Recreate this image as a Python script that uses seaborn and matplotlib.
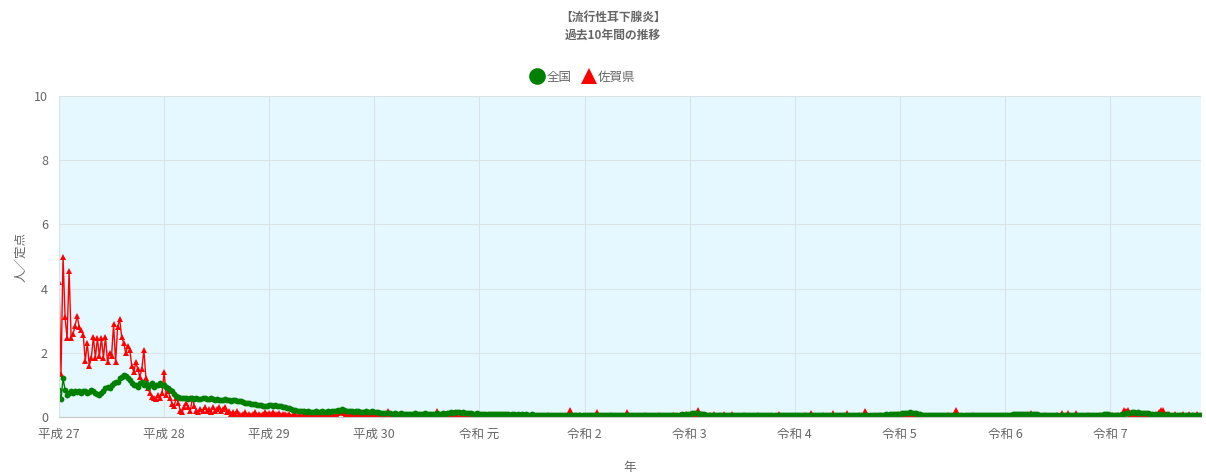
import matplotlib
matplotlib.use("Agg")
import matplotlib.pyplot as plt
from matplotlib.lines import Line2D
import seaborn as sns
import numpy as np
import pandas as pd

# weekly values per year (人／定点)
year_labels = ["平成 27", "平成 28", "平成 29", "平成 30", "令和 元", "令和 2",
               "令和 3", "令和 4", "令和 5", "令和 6", "令和 7"]

zenkoku = [
    [0.85, 0.55, 1.2, 0.85, 0.7, 0.75, 0.8, 0.75, 0.8, 0.78, 0.8, 0.75, 0.82, 0.8, 0.75, 0.78, 0.85, 0.8,
     0.75, 0.72, 0.7, 0.75, 0.8, 0.9, 0.95, 0.9, 1.0, 1.05, 1.1, 1.1, 1.2, 1.25, 1.3, 1.28, 1.2, 1.15,
     1.05, 1.0, 1.0, 0.95, 1.05, 1.1, 1.0, 1.05, 0.95, 1.0, 1.05, 0.95, 1.0, 1.0, 1.05, 1.0],
    [1.0, 0.95, 0.9, 0.85, 0.8, 0.72, 0.66, 0.62, 0.6, 0.6, 0.58, 0.6, 0.57, 0.58, 0.6, 0.56, 0.58, 0.55,
     0.57, 0.6, 0.58, 0.55, 0.56, 0.58, 0.55, 0.53, 0.55, 0.52, 0.54, 0.53, 0.55, 0.52, 0.53, 0.5, 0.52,
     0.53, 0.5, 0.51, 0.5, 0.47, 0.45, 0.44, 0.43, 0.42, 0.42, 0.4, 0.38, 0.38, 0.36, 0.35, 0.35, 0.34],
    [0.36, 0.37, 0.35, 0.36, 0.34, 0.35, 0.33, 0.32, 0.3, 0.28, 0.27, 0.25, 0.23, 0.22, 0.2, 0.2, 0.18,
     0.18, 0.17, 0.18, 0.17, 0.16, 0.17, 0.18, 0.16, 0.17, 0.18, 0.17, 0.16, 0.18, 0.17, 0.19, 0.2, 0.18,
     0.22, 0.2, 0.25, 0.23, 0.2, 0.19, 0.18, 0.2, 0.17, 0.18, 0.19, 0.17, 0.16, 0.17, 0.18, 0.16, 0.17, 0.18],
    [0.17, 0.15, 0.16, 0.14, 0.13, 0.12, 0.12, 0.11, 0.12, 0.1, 0.11, 0.1, 0.1, 0.11, 0.1, 0.09, 0.1, 0.1,
     0.09, 0.1, 0.11, 0.1, 0.09, 0.1, 0.1, 0.11, 0.1, 0.1, 0.09, 0.1, 0.1, 0.11, 0.1, 0.1, 0.12, 0.1, 0.12,
     0.14, 0.15, 0.14, 0.15, 0.16, 0.15, 0.14, 0.15, 0.13, 0.12, 0.12, 0.11, 0.1, 0.1, 0.11],
    [0.1, 0.1, 0.09, 0.1, 0.1, 0.09, 0.08, 0.09, 0.1, 0.09, 0.08, 0.09, 0.08, 0.09, 0.08, 0.07, 0.08, 0.08,
     0.07, 0.08, 0.07, 0.08, 0.07, 0.08, 0.07, 0.07, 0.08, 0.07, 0.06, 0.07, 0.07, 0.06, 0.07, 0.07, 0.06,
     0.07, 0.06, 0.07, 0.06, 0.07, 0.06, 0.06, 0.07, 0.06, 0.07, 0.06, 0.07, 0.06, 0.06, 0.07, 0.06, 0.07],
    [0.07, 0.06, 0.06, 0.07, 0.06, 0.05, 0.06, 0.05, 0.06, 0.05, 0.05, 0.06, 0.05, 0.05, 0.06, 0.05, 0.05,
     0.06, 0.05, 0.06, 0.05, 0.06, 0.05, 0.05, 0.06, 0.05, 0.05, 0.06, 0.05, 0.05, 0.06, 0.05, 0.06, 0.05,
     0.05, 0.06, 0.05, 0.06, 0.05, 0.06, 0.06, 0.05, 0.06, 0.07, 0.06, 0.07, 0.06, 0.07, 0.08, 0.07, 0.08, 0.09],
    [0.1, 0.11, 0.12, 0.12, 0.11, 0.1, 0.09, 0.08, 0.07, 0.07, 0.06, 0.07, 0.06, 0.06, 0.07, 0.06, 0.06,
     0.05, 0.06, 0.06, 0.05, 0.06, 0.05, 0.06, 0.05, 0.05, 0.06, 0.05, 0.06, 0.05, 0.05, 0.06, 0.05, 0.05,
     0.06, 0.05, 0.05, 0.06, 0.05, 0.05, 0.06, 0.05, 0.06, 0.05, 0.05, 0.06, 0.05, 0.05, 0.06, 0.05, 0.05, 0.06],
    [0.05, 0.06, 0.05, 0.05, 0.06, 0.05, 0.05, 0.06, 0.05, 0.05, 0.06, 0.05, 0.05, 0.06, 0.05, 0.05, 0.05,
     0.06, 0.05, 0.05, 0.06, 0.05, 0.05, 0.06, 0.05, 0.05, 0.06, 0.05, 0.05, 0.06, 0.05, 0.05, 0.06, 0.05,
     0.05, 0.06, 0.05, 0.06, 0.05, 0.06, 0.06, 0.07, 0.06, 0.07, 0.07, 0.08, 0.07, 0.08, 0.08, 0.09, 0.09, 0.1],
    [0.1, 0.11, 0.12, 0.13, 0.14, 0.15, 0.14, 0.13, 0.11, 0.1, 0.08, 0.07, 0.07, 0.06, 0.07, 0.06, 0.06,
     0.05, 0.06, 0.05, 0.06, 0.05, 0.05, 0.06, 0.05, 0.06, 0.05, 0.06, 0.07, 0.06, 0.05, 0.06, 0.05, 0.05,
     0.06, 0.05, 0.05, 0.06, 0.05, 0.05, 0.06, 0.05, 0.05, 0.06, 0.05, 0.05, 0.06, 0.05, 0.06, 0.05, 0.06, 0.06],
    [0.06, 0.06, 0.07, 0.07, 0.08, 0.09, 0.1, 0.1, 0.1, 0.1, 0.09, 0.1, 0.09, 0.1, 0.09, 0.08, 0.08, 0.07,
     0.07, 0.06, 0.07, 0.06, 0.06, 0.07, 0.06, 0.06, 0.07, 0.06, 0.06, 0.07, 0.06, 0.06, 0.07, 0.06, 0.06,
     0.07, 0.06, 0.06, 0.07, 0.06, 0.07, 0.06, 0.06, 0.07, 0.06, 0.07, 0.07, 0.06, 0.07, 0.08, 0.08, 0.09],
    [0.07, 0.07, 0.06, 0.07, 0.06, 0.07, 0.08, 0.1, 0.12, 0.13, 0.14, 0.15, 0.15, 0.14, 0.15, 0.14, 0.13,
     0.12, 0.12, 0.11, 0.1, 0.09, 0.08, 0.08, 0.07, 0.08, 0.07, 0.07, 0.08, 0.07, 0.06, 0.07, 0.06, 0.07,
     0.06, 0.07, 0.06, 0.06, 0.07, 0.06, 0.06, 0.07, 0.06, 0.06, 0.07, 0.06],
]

saga = [
    [4.2, 1.35, 5.0, 3.1, 2.45, 4.55, 2.45, 2.6, 2.85, 3.15, 2.8, 2.7, 2.55, 1.75, 2.3, 1.6, 1.85, 2.5,
     1.85, 2.45, 1.9, 2.45, 1.85, 2.5, 1.7, 2.0, 1.9, 2.9, 1.7, 2.8, 3.05, 2.5, 2.3, 2.0, 2.2, 2.1, 1.6,
     1.4, 1.7, 1.5, 1.25, 1.5, 2.1, 1.2, 0.9, 0.75, 0.63, 0.6, 0.55, 0.7, 0.6, 0.75],
    [1.4, 0.7, 0.8, 0.6, 0.4, 0.35, 0.6, 0.45, 0.2, 0.17, 0.3, 0.45, 0.3, 0.2, 0.6, 0.35, 0.2, 0.15, 0.25,
     0.2, 0.3, 0.2, 0.25, 0.15, 0.3, 0.2, 0.25, 0.3, 0.2, 0.25, 0.3, 0.15, 0.2, 0.1, 0.15, 0.1, 0.2, 0.1,
     0.05, 0.1, 0.15, 0.05, 0.1, 0.05, 0.1, 0.15, 0.05, 0.1, 0.05, 0.1, 0.15, 0.1],
    [0.12, 0.1, 0.15, 0.08, 0.1, 0.12, 0.05, 0.1, 0.08, 0.05, 0.1, 0.03, 0.05, 0.08, 0.03, 0.05, 0.02, 0.05,
     0.03, 0.02, 0.05, 0.03, 0.02, 0.04, 0.02, 0.05, 0.03, 0.02, 0.05, 0.03, 0.06, 0.08, 0.05, 0.1, 0.12,
     0.15, 0.2, 0.12, 0.1, 0.15, 0.08, 0.1, 0.05, 0.08, 0.1, 0.05, 0.08, 0.05, 0.1, 0.08, 0.05, 0.1],
    [0.08, 0.05, 0.1, 0.05, 0.03, 0.05, 0.02, 0.2, 0.05, 0.03, 0.02, 0.05, 0.03, 0.02, 0.05, 0.03, 0.02,
     0.03, 0.05, 0.02, 0.03, 0.05, 0.02, 0.04, 0.03, 0.02, 0.05, 0.03, 0.05, 0.03, 0.02, 0.2, 0.05, 0.03,
     0.02, 0.05, 0.03, 0.0, 0.02, 0.0, 0.03, 0.02, 0.0, 0.02, 0.03, 0.02, 0.05, 0.03, 0.02, 0.03, 0.05, 0.03],
    [0.03, 0.02, 0.05, 0.02, 0.03, 0.0, 0.02, 0.03, 0.02, 0.0, 0.02, 0.03, 0.05, 0.02, 0.0, 0.02, 0.03, 0.02,
     0.0, 0.02, 0.03, 0.02, 0.05, 0.02, 0.0, 0.02, 0.03, 0.02, 0.0, 0.02, 0.03, 0.02, 0.0, 0.02, 0.05, 0.02,
     0.03, 0.02, 0.0, 0.02, 0.03, 0.02, 0.0, 0.02, 0.05, 0.22, 0.03, 0.02, 0.0, 0.02, 0.05, 0.02],
    [0.02, 0.0, 0.03, 0.02, 0.0, 0.02, 0.15, 0.02, 0.0, 0.02, 0.03, 0.0, 0.02, 0.05, 0.0, 0.02, 0.0, 0.03,
     0.02, 0.0, 0.02, 0.15, 0.03, 0.0, 0.02, 0.0, 0.03, 0.02, 0.0, 0.02, 0.05, 0.0, 0.02, 0.0, 0.03, 0.02,
     0.0, 0.05, 0.02, 0.0, 0.02, 0.03, 0.0, 0.02, 0.05, 0.03, 0.02, 0.05, 0.03, 0.05, 0.08, 0.05],
    [0.05, 0.08, 0.1, 0.05, 0.22, 0.05, 0.1, 0.03, 0.05, 0.02, 0.05, 0.02, 0.1, 0.03, 0.02, 0.05, 0.02, 0.08,
     0.02, 0.0, 0.02, 0.1, 0.02, 0.0, 0.03, 0.02, 0.0, 0.05, 0.02, 0.0, 0.02, 0.03, 0.0, 0.02, 0.05, 0.0,
     0.02, 0.03, 0.0, 0.02, 0.0, 0.03, 0.02, 0.0, 0.1, 0.02, 0.0, 0.03, 0.02, 0.0, 0.02, 0.03],
    [0.02, 0.0, 0.03, 0.0, 0.02, 0.05, 0.0, 0.02, 0.12, 0.02, 0.0, 0.03, 0.02, 0.0, 0.05, 0.02, 0.0, 0.03,
     0.0, 0.12, 0.02, 0.0, 0.03, 0.0, 0.02, 0.05, 0.12, 0.02, 0.0, 0.03, 0.0, 0.02, 0.05, 0.0, 0.03, 0.2,
     0.05, 0.02, 0.0, 0.03, 0.02, 0.0, 0.05, 0.02, 0.0, 0.03, 0.02, 0.05, 0.03, 0.02, 0.05, 0.08],
    [0.05, 0.03, 0.02, 0.0, 0.0, 0.02, 0.0, 0.0, 0.02, 0.03, 0.0, 0.02, 0.0, 0.03, 0.02, 0.0, 0.02, 0.0,
     0.03, 0.02, 0.0, 0.02, 0.0, 0.03, 0.05, 0.02, 0.0, 0.05, 0.22, 0.05, 0.02, 0.0, 0.03, 0.0, 0.02, 0.0,
     0.05, 0.02, 0.0, 0.02, 0.0, 0.03, 0.0, 0.02, 0.0, 0.03, 0.02, 0.0, 0.02, 0.0, 0.03, 0.02],
    [0.02, 0.0, 0.02, 0.0, 0.0, 0.02, 0.0, 0.0, 0.0, 0.02, 0.0, 0.0, 0.02, 0.12, 0.0, 0.02, 0.0, 0.03, 0.02,
     0.0, 0.05, 0.02, 0.0, 0.03, 0.0, 0.02, 0.05, 0.02, 0.12, 0.03, 0.0, 0.12, 0.02, 0.0, 0.03, 0.12, 0.02,
     0.0, 0.03, 0.02, 0.0, 0.05, 0.02, 0.0, 0.03, 0.02, 0.0, 0.05, 0.03, 0.02, 0.05, 0.03],
    [0.02, 0.05, 0.03, 0.02, 0.05, 0.03, 0.1, 0.22, 0.2, 0.23, 0.1, 0.05, 0.02, 0.0, 0.0, 0.0, 0.0, 0.0,
     0.0, 0.0, 0.0, 0.02, 0.0, 0.05, 0.15, 0.23, 0.22, 0.1, 0.05, 0.1, 0.03, 0.02, 0.1, 0.03, 0.02, 0.05,
     0.1, 0.02, 0.03, 0.1, 0.02, 0.05, 0.03, 0.08, 0.02, 0.03],
]

series_names = ["全国", "佐賀県"]
series_colors = {"全国": "#008000", "佐賀県": "#ff0000"}
series_markers = {"全国": "o", "佐賀県": "^"}

# tick positions = first week of each year
year_starts = np.cumsum([0] + [len(y) for y in zenkoku[:-1]])

rows = []
for name, data in [("佐賀県", saga), ("全国", zenkoku)]:
    vals = [v for yr in data for v in yr]
    for i, v in enumerate(vals):
        rows.append({"week": i, "value": v, "region": name})
df = pd.DataFrame(rows)
n_weeks = len([v for yr in zenkoku for v in yr])

sns.set_style("white")
plt.rcParams["font.family"] = ["Noto Sans CJK JP", "DejaVu Sans"]
txt_col = "#666666"
grid_col = "#d9e3e8"

fig = plt.figure(figsize=(12.06, 4.75), dpi=100)
ax = fig.add_axes([59 / 1206, 1 - 417 / 475, 1142 / 1206, 321 / 475])
ax.set_facecolor("#e6f8ff")

# red drawn first so green sits on top, as in the reference
sns.lineplot(data=df, x="week", y="value", hue="region", style="region",
             hue_order=["佐賀県", "全国"], style_order=["佐賀県", "全国"],
             palette=series_colors, markers=series_markers, dashes=False,
             markersize=4.2, markeredgewidth=0, linewidth=1.0,
             legend=False, ax=ax)

ax.set_xlim(0, n_weeks - 1)
ax.set_ylim(0, 10)
ax.set_xticks(year_starts)
ax.set_xticklabels(year_labels)
ax.set_yticks([0, 2, 4, 6, 8, 10])
ax.grid(True, color=grid_col, linewidth=0.8)
ax.set_axisbelow(True)
for s in ["top", "right"]:
    ax.spines[s].set_visible(False)
ax.spines["left"].set_color(grid_col)
ax.spines["bottom"].set_color("#c8c8c8")
ax.tick_params(axis="both", colors=grid_col, labelcolor=txt_col, labelsize=9,
               length=6, width=0.8, pad=2)
ax.set_xlabel("年", color=txt_col, fontsize=9, labelpad=14)
ax.set_ylabel("人／定点", color=txt_col, fontsize=9, labelpad=5)

fig.text(613 / 1206, 1 - 17 / 475, "【流行性耳下腺炎】", ha="center", va="center",
         fontsize=8.5, fontweight="bold", color=txt_col)
fig.text(613 / 1206, 1 - 35 / 475, "過去10年間の推移", ha="center", va="center",
         fontsize=8.5, fontweight="bold", color=txt_col)

handles = [Line2D([], [], linestyle="none", marker=series_markers[n], color=series_colors[n],
                  markersize=12, markeredgewidth=0) for n in series_names]
fig.legend(handles, series_names, loc="center", bbox_to_anchor=(583 / 1206, 1 - 77 / 475),
           ncol=2, frameon=False, fontsize=9, labelcolor=txt_col, handlelength=1.0,
           handletextpad=0.2, columnspacing=0.9)

fig.savefig("out.png", dpi=100)
